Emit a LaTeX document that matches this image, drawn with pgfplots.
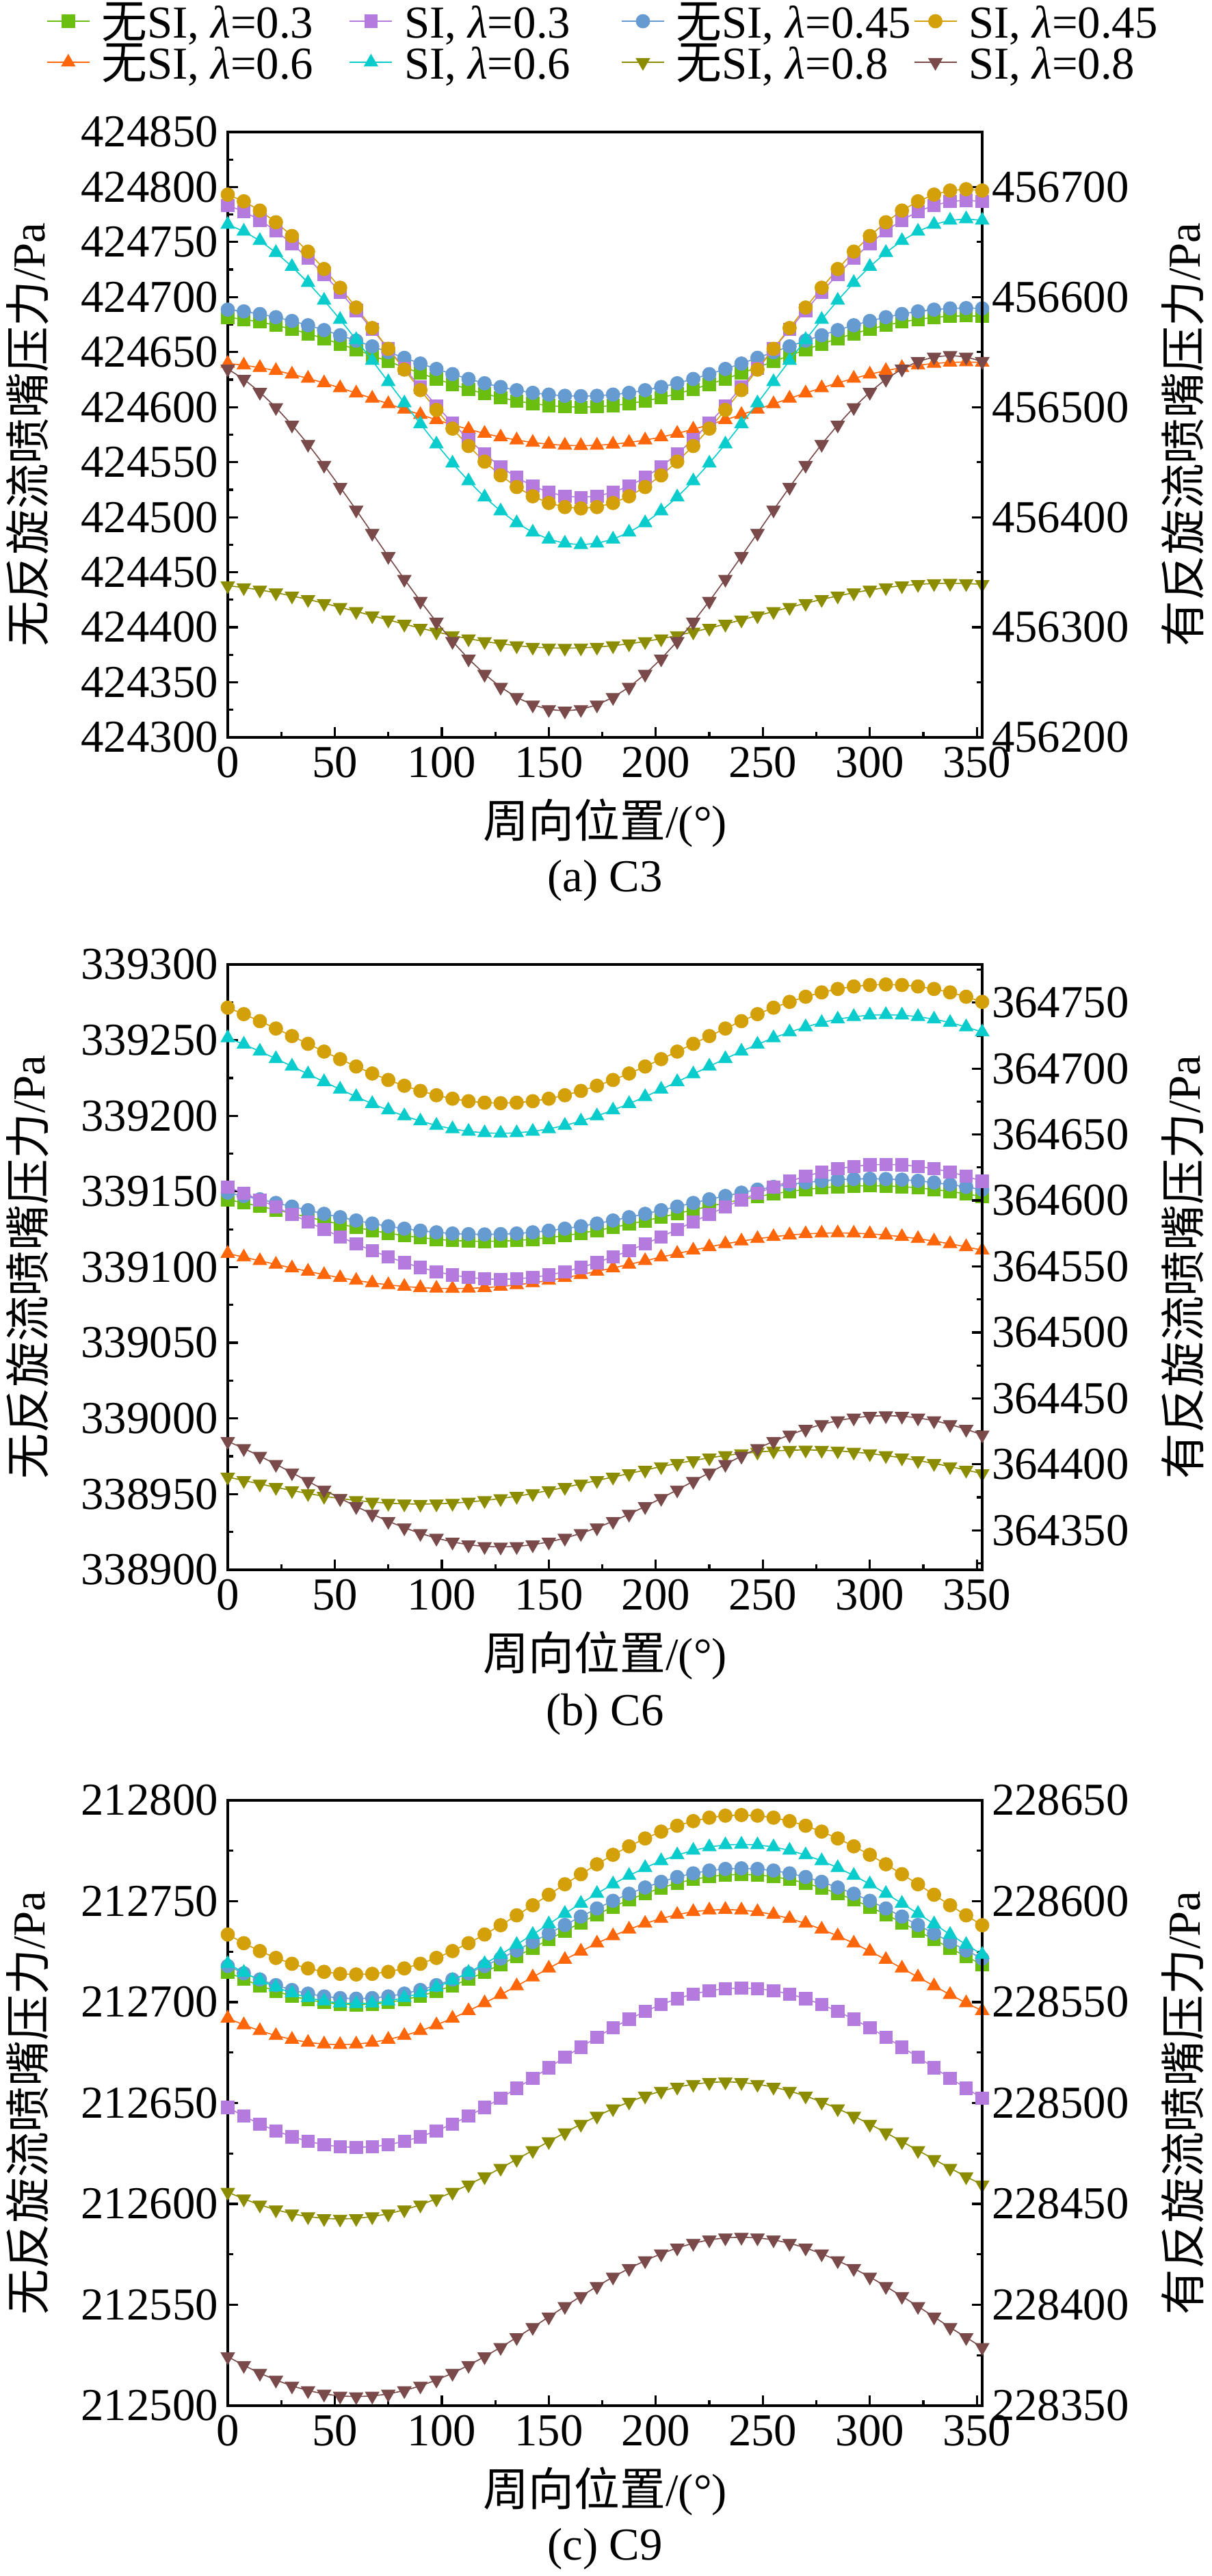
\documentclass[border=0pt]{standalone}
\usepackage{fontspec}
\setmainfont{Liberation Serif}
\newfontfamily\cjk{Noto Sans CJK SC}
\usepackage{pgfplots}
\usepackage{pgfplotstable}
\pgfplotsset{compat=1.18}
\newcommand{\fsz}{\fontsize{16.7pt}{20pt}\selectfont}
\definecolor{cg}{RGB}{106,190,16}
\definecolor{cp}{RGB}{180,122,222}
\definecolor{cb}{RGB}{102,155,210}
\definecolor{co}{RGB}{212,160,10}
\definecolor{cr}{RGB}{255,102,10}
\definecolor{cc}{RGB}{10,204,204}
\definecolor{cv}{RGB}{140,140,0}
\definecolor{cw}{RGB}{122,74,74}
\newcommand{\lgs}{\hspace*{4.25pt}\rule[-3.5pt]{0pt}{17pt}}
\pgfplotsset{
  base/.style={scale only axis, width=275.75pt, height=221.25pt, anchor=south west,
    xmin=0, xmax=352.5, clip=true,
    axis line style={line width=1pt},
    tick align=inside, major tick length=3.75pt, minor tick length=2pt,
    every tick/.style={black, line width=0.8pt},
    tick label style={font=\fsz},
    scaled ticks=false,
    /pgf/number format/fixed, /pgf/number format/precision=0, /pgf/number format/1000 sep={},
    /pgf/number format/assume math mode=true},
  lft/.style={base, xtick pos=left, ytick pos=left,
    xtick={0,50,100,150,200,250,300,350}, minor xtick={25,75,125,175,225,275,325},
    xlabel={{\cjk 周向位置}/(°)}, ylabel={{\cjk 无反旋流喷嘴压力}/Pa},
    every axis x label/.style={at={(axis description cs:0.5,-0.1412)}, anchor=center, font=\fsz},
    every axis y label/.style={at={(axis description cs:-0.2656,0.5)}, rotate=90, anchor=center, font=\fsz}},
  rgt/.style={base, axis x line=none, axis y line*=right,
    ylabel={{\cjk 有反旋流喷嘴压力}/Pa},
    every axis y label/.style={at={(axis description cs:1.2656,0.5)}, rotate=90, anchor=center, font=\fsz}},
  sNA/.style={color=cg, line width=0.4pt, mark=square*, mark size=2.3pt, mark options={solid, fill=cg, draw=cg, line width=0.2pt}},
  sSA/.style={color=cp, line width=0.4pt, mark=square*, mark size=2.3pt, mark options={solid, fill=cp, draw=cp, line width=0.2pt}},
  sNB/.style={color=cb, line width=0.4pt, mark=*, mark size=2.5pt, mark options={solid, fill=cb, draw=cb, line width=0.2pt}},
  sSB/.style={color=co, line width=0.4pt, mark=*, mark size=2.5pt, mark options={solid, fill=co, draw=co, line width=0.2pt}},
  sNC/.style={color=cr, line width=0.4pt, mark=triangle*, mark size=2.9pt, mark options={solid, fill=cr, draw=cr, line width=0.2pt}},
  sSC/.style={color=cc, line width=0.4pt, mark=triangle*, mark size=2.9pt, mark options={solid, fill=cc, draw=cc, line width=0.2pt}},
  sND/.style={color=cv, line width=0.4pt, mark=triangle*, mark size=2.9pt, mark options={solid, rotate=180, fill=cv, draw=cv, line width=0.2pt}},
  sSD/.style={color=cw, line width=0.4pt, mark=triangle*, mark size=2.9pt, mark options={solid, rotate=180, fill=cw, draw=cw, line width=0.2pt}},
}
% columns: nA=noSI 0.3, sA=SI 0.3, nB=noSI 0.45, sB=SI 0.45, nC=noSI 0.6, sC=SI 0.6, nD=noSI 0.8, sD=SI 0.8
\pgfplotstableread{
x nA sA nB sB nC sC nD sD
0 424681.6 456683.4 424688.6 456693.1 424639.7 456666.0 424437.8 456534.7
7.5 424679.8 456677.7 424687.0 456687.0 424638.1 456659.7 424436.1 456525.4
15 424677.4 456669.9 424684.6 456678.6 424635.9 456651.2 424433.9 456513.6
22.5 424674.4 456660.1 424681.7 456668.0 424633.2 456640.4 424431.4 456499.7
30 424670.8 456648.5 424678.3 456655.5 424629.9 456627.7 424428.5 456483.8
37.5 424666.8 456635.2 424674.4 456641.3 424626.1 456613.1 424425.3 456466.3
45 424662.3 456620.5 424670.0 456625.5 424622.0 456597.0 424421.8 456447.3
52.5 424657.4 456604.7 424665.3 456608.5 424617.5 456579.6 424418.1 456427.3
60 424652.2 456587.9 424660.4 456590.5 424612.8 456561.3 424414.4 456406.6
67.5 424646.9 456570.6 424655.2 456571.9 424608.0 456542.3 424410.5 456385.5
75 424641.5 456553.0 424650.0 456553.0 424603.0 456523.0 424406.7 456364.4
82.5 424636.1 456535.4 424644.8 456534.1 424598.0 456503.7 424402.9 456343.7
90 424630.8 456518.1 424639.6 456515.5 424593.2 456484.7 424399.2 456323.7
97.5 424625.6 456501.3 424634.7 456497.5 424588.5 456466.4 424395.8 456304.8
105 424620.8 456485.5 424630.0 456480.5 424584.0 456449.0 424392.5 456287.2
112.5 424616.2 456470.8 424625.6 456464.7 424579.9 456432.9 424389.6 456271.3
120 424612.2 456457.5 424621.7 456450.5 424576.1 456418.3 424387.1 456257.4
127.5 424608.6 456445.9 424618.3 456438.0 424572.8 456405.6 424385.0 456245.6
135 424605.6 456436.1 424615.4 456427.4 424570.1 456394.8 424383.3 456236.3
142.5 424603.2 456428.3 424613.0 456419.0 424567.9 456386.3 424382.0 456229.5
150 424601.4 456422.6 424611.4 456412.9 424566.3 456380.0 424381.3 456225.4
157.5 424600.4 456419.2 424610.3 456409.2 424565.3 456376.3 424381.0 456224.0
165 424600.0 456418.0 424610.0 456408.0 424565.0 456375.0 424381.3 456225.4
172.5 424600.4 456419.2 424610.3 456409.2 424565.3 456376.3 424382.0 456229.5
180 424601.4 456422.6 424611.4 456412.9 424566.3 456380.0 424383.3 456236.3
187.5 424603.2 456428.3 424613.0 456419.0 424567.9 456386.3 424385.0 456245.6
195 424605.6 456436.1 424615.4 456427.4 424570.1 456394.8 424387.1 456257.4
202.5 424608.6 456445.9 424618.3 456438.0 424572.8 456405.6 424389.6 456271.3
210 424612.2 456457.5 424621.7 456450.5 424576.1 456418.3 424392.5 456287.2
217.5 424616.2 456470.8 424625.6 456464.7 424579.9 456432.9 424395.8 456304.8
225 424620.8 456485.5 424630.0 456480.5 424584.0 456449.0 424399.2 456323.7
232.5 424625.6 456501.3 424634.7 456497.5 424588.5 456466.4 424402.9 456343.7
240 424630.8 456518.1 424639.6 456515.5 424593.2 456484.7 424406.7 456364.4
247.5 424636.1 456535.4 424644.8 456534.1 424598.0 456503.7 424410.5 456385.5
255 424641.5 456553.0 424650.0 456553.0 424603.0 456523.0 424414.4 456406.6
262.5 424646.9 456570.6 424655.2 456571.9 424608.0 456542.3 424418.1 456427.3
270 424652.2 456587.9 424660.4 456590.5 424612.8 456561.3 424421.8 456447.3
277.5 424657.4 456604.7 424665.3 456608.5 424617.5 456579.6 424425.3 456466.3
285 424662.3 456620.5 424670.0 456625.5 424622.0 456597.0 424428.5 456483.8
292.5 424666.8 456635.2 424674.4 456641.3 424626.1 456613.1 424431.4 456499.7
300 424670.8 456648.5 424678.3 456655.5 424629.9 456627.7 424433.9 456513.6
307.5 424674.4 456660.1 424681.7 456668.0 424633.2 456640.4 424436.1 456525.4
315 424677.4 456669.9 424684.6 456678.6 424635.9 456651.2 424437.8 456534.7
322.5 424679.8 456677.7 424687.0 456687.0 424638.1 456659.7 424439.0 456541.5
330 424681.6 456683.4 424688.6 456693.1 424639.7 456666.0 424439.8 456545.6
337.5 424682.6 456686.8 424689.7 456696.8 424640.7 456669.7 424440.0 456547.0
345 424683.0 456688.0 424690.0 456698.0 424641.0 456671.0 424439.8 456545.6
352.5 424682.6 456686.8 424689.7 456696.8 424640.7 456669.7 424439.0 456541.5
}\tA
\pgfplotstableread{
x nA sA nB sB nC sC nD sD
0 339144.6 364610.3 339149.2 364746.2 339109.0 364723.3 338961.3 364417.4
7.5 339142.4 364605.6 339147.0 364741.3 339106.6 364718.4 338959.0 364412.0
15 339140.2 364600.5 339144.8 364736.0 339104.2 364713.1 338956.7 364406.2
22.5 339137.8 364595.1 339142.4 364730.4 339101.8 364707.5 338954.5 364400.0
30 339135.4 364589.5 339140.0 364724.7 339099.4 364701.8 338952.4 364393.6
37.5 339133.0 364583.8 339137.6 364718.8 339097.2 364695.9 338950.4 364387.1
45 339130.6 364578.1 339135.2 364712.9 339095.0 364690.0 338948.6 364380.6
52.5 339128.4 364572.5 339133.0 364707.2 339093.0 364684.3 338947.1 364374.2
60 339126.2 364567.1 339130.8 364701.6 339091.2 364678.7 338945.8 364368.0
67.5 339124.2 364562.0 339128.8 364696.3 339089.6 364673.4 338944.8 364362.2
75 339122.4 364557.3 339127.0 364691.4 339088.3 364668.5 338944.0 364356.8
82.5 339120.8 364553.0 339125.4 364687.0 339087.2 364664.1 338943.6 364351.9
90 339119.5 364549.2 339124.1 364683.1 339086.4 364660.2 338943.4 364347.6
97.5 339118.4 364546.0 339123.0 364679.8 339086.0 364656.9 338943.6 364344.0
105 339117.6 364543.5 339122.2 364677.2 339085.8 364654.3 338944.0 364341.1
112.5 339117.2 364541.7 339121.8 364675.3 339086.0 364652.4 338944.8 364339.0
120 339117.0 364540.6 339121.6 364674.2 339086.4 364651.3 338945.8 364337.7
127.5 339117.2 364540.2 339121.8 364673.8 339087.2 364650.9 338947.1 364337.3
135 339117.6 364540.6 339122.2 364674.2 339088.3 364651.3 338948.6 364337.7
142.5 339118.4 364541.7 339123.0 364675.3 339089.6 364652.4 338950.4 364339.0
150 339119.5 364543.5 339124.1 364677.2 339091.2 364654.3 338952.4 364341.1
157.5 339120.8 364546.0 339125.4 364679.8 339093.0 364656.9 338954.5 364344.0
165 339122.4 364549.2 339127.0 364683.1 339095.0 364660.2 338956.7 364347.6
172.5 339124.2 364553.0 339128.8 364687.0 339097.2 364664.1 338959.0 364351.9
180 339126.2 364557.3 339130.8 364691.4 339099.4 364668.5 338961.3 364356.8
187.5 339128.4 364562.0 339133.0 364696.3 339101.8 364673.4 338963.6 364362.2
195 339130.6 364567.1 339135.2 364701.6 339104.2 364678.7 338965.9 364368.0
202.5 339133.0 364572.5 339137.6 364707.2 339106.6 364684.3 338968.2 364374.2
210 339135.4 364578.1 339140.0 364712.9 339109.0 364690.0 338970.3 364380.6
217.5 339137.8 364583.8 339142.4 364718.8 339111.2 364695.9 338972.2 364387.1
225 339140.2 364589.5 339144.8 364724.7 339113.4 364701.8 338974.0 364393.6
232.5 339142.4 364595.1 339147.0 364730.4 339115.4 364707.5 338975.5 364400.0
240 339144.6 364600.5 339149.2 364736.0 339117.2 364713.1 338976.8 364406.2
247.5 339146.6 364605.6 339151.2 364741.3 339118.8 364718.4 338977.8 364412.0
255 339148.4 364610.3 339153.0 364746.2 339120.1 364723.3 338978.6 364417.4
262.5 339150.0 364614.6 339154.6 364750.6 339121.2 364727.7 338979.0 364422.3
270 339151.3 364618.4 339155.9 364754.5 339122.0 364731.6 338979.2 364426.6
277.5 339152.4 364621.6 339157.0 364757.8 339122.4 364734.9 338979.0 364430.2
285 339153.2 364624.1 339157.8 364760.4 339122.6 364737.5 338978.6 364433.1
292.5 339153.6 364625.9 339158.2 364762.3 339122.4 364739.4 338977.8 364435.2
300 339153.8 364627.0 339158.4 364763.4 339122.0 364740.5 338976.8 364436.5
307.5 339153.6 364627.4 339158.2 364763.8 339121.2 364740.9 338975.5 364436.9
315 339153.2 364627.0 339157.8 364763.4 339120.1 364740.5 338974.0 364436.5
322.5 339152.4 364625.9 339157.0 364762.3 339118.8 364739.4 338972.2 364435.2
330 339151.3 364624.1 339155.9 364760.4 339117.2 364737.5 338970.3 364433.1
337.5 339150.0 364621.6 339154.6 364757.8 339115.4 364734.9 338968.2 364430.2
345 339148.4 364618.4 339153.0 364754.5 339113.4 364731.6 338965.9 364426.6
352.5 339146.6 364614.6 339151.2 364750.6 339111.2 364727.7 338963.6 364422.3
}\tB
\pgfplotstableread{
x nA sA nB sB nC sC nD sD
0 212714.9 228497.8 212717.9 228583.5 212692.0 228569.0 212605.8 228374.3
7.5 212711.3 228493.5 212714.3 228579.2 212688.7 228564.7 212602.5 228370.0
15 212708.2 228489.6 212711.2 228575.3 212685.8 228560.8 212599.5 228366.1
22.5 212705.4 228486.2 212708.4 228571.9 212683.4 228557.4 212597.1 228362.7
30 212703.0 228483.3 212706.0 228569.0 212681.5 228554.5 212595.1 228359.8
37.5 212701.2 228481.0 212704.2 228566.7 212680.0 228552.2 212593.7 228357.5
45 212699.8 228479.3 212702.8 228565.0 212679.2 228550.5 212592.8 228355.8
52.5 212699.0 228478.3 212702.0 228564.0 212678.9 228549.5 212592.5 228354.8
60 212698.7 228478.0 212701.7 228563.7 212679.2 228549.2 212592.8 228354.5
67.5 212699.0 228478.3 212702.0 228564.0 212680.0 228549.5 212593.7 228354.8
75 212699.8 228479.3 212702.8 228565.0 212681.5 228550.5 212595.1 228355.8
82.5 212701.2 228481.0 212704.2 228566.7 212683.4 228552.2 212597.1 228357.5
90 212703.0 228483.3 212706.0 228569.0 212685.8 228554.5 212599.5 228359.8
97.5 212705.4 228486.2 212708.4 228571.9 212688.7 228557.4 212602.5 228362.7
105 212708.2 228489.6 212711.2 228575.3 212692.0 228560.8 212605.8 228366.1
112.5 212711.3 228493.5 212714.3 228579.2 212695.7 228564.7 212609.5 228370.0
120 212714.9 228497.8 212717.9 228583.5 212699.6 228569.0 212613.5 228374.3
127.5 212718.6 228502.4 212721.6 228588.1 212703.7 228573.6 212617.7 228378.9
135 212722.6 228507.3 212725.6 228593.0 212708.0 228578.5 212622.1 228383.8
142.5 212726.8 228512.3 212729.8 228598.0 212712.4 228583.5 212626.5 228388.8
150 212731.0 228517.5 212734.0 228603.2 212716.8 228588.7 212630.9 228394.0
157.5 212735.2 228522.7 212738.2 228608.4 212721.1 228593.9 212635.3 228399.2
165 212739.4 228527.7 212742.4 228613.4 212725.2 228598.9 212639.5 228404.2
172.5 212743.4 228532.6 212746.4 228618.3 212729.2 228603.8 212643.5 228409.1
180 212747.2 228537.3 212750.2 228623.0 212732.8 228608.5 212647.2 228413.8
187.5 212750.7 228541.5 212753.7 228627.2 212736.1 228612.7 212650.5 228418.0
195 212753.8 228545.4 212756.8 228631.1 212739.0 228616.6 212653.5 228421.9
202.5 212756.6 228548.8 212759.6 228634.5 212741.4 228620.0 212655.9 228425.3
210 212759.0 228551.7 212762.0 228637.4 212743.4 228622.9 212657.9 228428.2
217.5 212760.8 228554.0 212763.8 228639.7 212744.8 228625.2 212659.3 228430.5
225 212762.2 228555.7 212765.2 228641.4 212745.6 228626.9 212660.2 228432.2
232.5 212763.0 228556.7 212766.0 228642.4 212745.9 228627.9 212660.5 228433.2
240 212763.3 228557.0 212766.3 228642.7 212745.6 228628.2 212660.2 228433.5
247.5 212763.0 228556.7 212766.0 228642.4 212744.8 228627.9 212659.3 228433.2
255 212762.2 228555.7 212765.2 228641.4 212743.4 228626.9 212657.9 228432.2
262.5 212760.8 228554.0 212763.8 228639.7 212741.4 228625.2 212655.9 228430.5
270 212759.0 228551.7 212762.0 228637.4 212739.0 228622.9 212653.5 228428.2
277.5 212756.6 228548.8 212759.6 228634.5 212736.1 228620.0 212650.5 228425.3
285 212753.8 228545.4 212756.8 228631.1 212732.8 228616.6 212647.2 228421.9
292.5 212750.7 228541.5 212753.7 228627.2 212729.2 228612.7 212643.5 228418.0
300 212747.2 228537.3 212750.2 228623.0 212725.2 228608.5 212639.5 228413.8
307.5 212743.4 228532.6 212746.4 228618.3 212721.1 228603.8 212635.3 228409.1
315 212739.4 228527.7 212742.4 228613.4 212716.8 228598.9 212630.9 228404.2
322.5 212735.2 228522.7 212738.2 228608.4 212712.4 228593.9 212626.5 228399.2
330 212731.0 228517.5 212734.0 228603.2 212708.0 228588.7 212622.1 228394.0
337.5 212726.8 228512.3 212729.8 228598.0 212703.7 228583.5 212617.7 228388.8
345 212722.6 228507.3 212725.6 228593.0 212699.6 228578.5 212613.5 228383.8
352.5 212718.6 228502.4 212721.6 228588.1 212695.7 228573.6 212609.5 228378.9
}\tC
\begin{document}
\begin{tikzpicture}
\path[use as bounding box] (0pt,0pt) rectangle (443pt,941.5pt);
% ---------- panel (a) ----------
\begin{axis}[lft, at={(83.25pt,672pt)},
  ymin=424300, ymax=424850,
  ytick={424300,424350,424400,424450,424500,424550,424600,424650,424700,424750,424800,424850},
  minor ytick={424325,424375,424425,424475,424525,424575,424625,424675,424725,424775,424825}]
\addplot[sNA] table[x=x,y=nA]{\tA};
\addplot[sNB] table[x=x,y=nB]{\tA};
\addplot[sNC] table[x=x,y=nC]{\tA};
\addplot[sND] table[x=x,y=nD]{\tA};
\end{axis}
\begin{axis}[rgt, at={(83.25pt,672pt)},
  ymin=456200, ymax=456750,
  ytick={456200,456300,456400,456500,456600,456700},
  minor ytick={456250,456350,456450,456550,456650}]
\addplot[sSA] table[x=x,y=sA]{\tA};
\addplot[sSB] table[x=x,y=sB]{\tA};
\addplot[sSC] table[x=x,y=sC]{\tA};
\addplot[sSD] table[x=x,y=sD]{\tA};
\end{axis}
\node[font=\fsz] at (221.125pt,619.75pt) {(a) C3};
% ---------- panel (b) ----------
\begin{axis}[lft, at={(83.25pt,367.75pt)},
  ymin=338900, ymax=339300,
  ytick={338900,338950,339000,339050,339100,339150,339200,339250,339300},
  minor ytick={338925,338975,339025,339075,339125,339175,339225,339275}]
\addplot[sNA] table[x=x,y=nA]{\tB};
\addplot[sNB] table[x=x,y=nB]{\tB};
\addplot[sNC] table[x=x,y=nC]{\tB};
\addplot[sND] table[x=x,y=nD]{\tB};
\end{axis}
\begin{axis}[rgt, at={(83.25pt,367.75pt)},
  ymin=364320, ymax=364779,
  ytick={364350,364400,364450,364500,364550,364600,364650,364700,364750},
  minor ytick={364325,364375,364425,364475,364525,364575,364625,364675,364725,364775}]
\addplot[sSA] table[x=x,y=sA]{\tB};
\addplot[sSB] table[x=x,y=sB]{\tB};
\addplot[sSC] table[x=x,y=sC]{\tB};
\addplot[sSD] table[x=x,y=sD]{\tB};
\end{axis}
\node[font=\fsz] at (221.125pt,315pt) {(b) C6};
% ---------- panel (c) ----------
\begin{axis}[lft, at={(83.25pt,62.25pt)},
  ymin=212500, ymax=212800,
  ytick={212500,212550,212600,212650,212700,212750,212800},
  minor ytick={212525,212575,212625,212675,212725,212775}]
\addplot[sNA] table[x=x,y=nA]{\tC};
\addplot[sNB] table[x=x,y=nB]{\tC};
\addplot[sNC] table[x=x,y=nC]{\tC};
\addplot[sND] table[x=x,y=nD]{\tC};
\end{axis}
\begin{axis}[rgt, at={(83.25pt,62.25pt)},
  ymin=228350, ymax=228650,
  ytick={228350,228400,228450,228500,228550,228600,228650},
  minor ytick={228375,228425,228475,228525,228575,228625}]
\addplot[sSA] table[x=x,y=sA]{\tC};
\addplot[sSB] table[x=x,y=sB]{\tC};
\addplot[sSC] table[x=x,y=sC]{\tC};
\addplot[sSD] table[x=x,y=sD]{\tC};
\end{axis}
\node[font=\fsz] at (221.125pt,10pt) {(c) C9};
% ---------- legend ----------
\begin{axis}[at={(0pt,0pt)}, anchor=south west, scale only axis, width=443pt, height=941.5pt,
  hide axis, xmin=0, xmax=1, ymin=0, ymax=1,
  legend columns=4, legend cell align=left,
  legend style={at={(axis description cs:0.038375,0.9997)}, anchor=north west, draw=none, fill=none,
    inner sep=0pt, outer sep=0pt, font=\fsz, row sep=0pt, column sep=0pt,
    nodes={inner sep=0pt, outer sep=0pt}},
  legend image code/.code={\draw[mark repeat=2,mark phase=2,#1] plot coordinates {(0pt,0pt) (7.75pt,0pt) (15.5pt,0pt)};}]
\addlegendimage{sNA}
\addlegendentry{\makebox[94.75pt][l]{\lgs{\cjk 无}SI, \textit{λ}=0.3}}
\addlegendimage{sSA}
\addlegendentry{\makebox[83.5pt][l]{\lgs SI, \textit{λ}=0.3}}
\addlegendimage{sNB}
\addlegendentry{\makebox[91pt][l]{\lgs{\cjk 无}SI, \textit{λ}=0.45}}
\addlegendimage{sSB}
\addlegendentry{\lgs SI, \textit{λ}=0.45}
\addlegendimage{sNC}
\addlegendentry{\makebox[94.75pt][l]{\lgs{\cjk 无}SI, \textit{λ}=0.6}}
\addlegendimage{sSC}
\addlegendentry{\makebox[83.5pt][l]{\lgs SI, \textit{λ}=0.6}}
\addlegendimage{sND}
\addlegendentry{\makebox[91pt][l]{\lgs{\cjk 无}SI, \textit{λ}=0.8}}
\addlegendimage{sSD}
\addlegendentry{\lgs SI, \textit{λ}=0.8}
\end{axis}
\end{tikzpicture}
\end{document}
